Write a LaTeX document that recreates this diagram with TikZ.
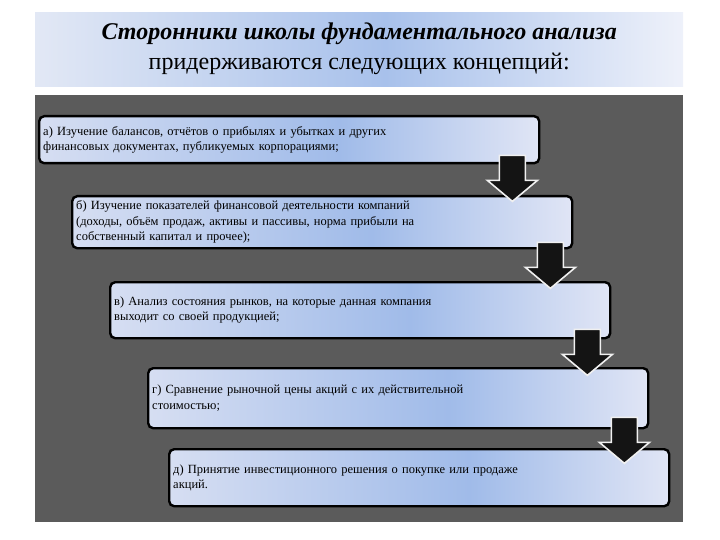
\documentclass[tikz,border=0pt]{standalone}
\usepackage{fontspec}
\setmainfont{Liberation Serif}
\usepackage{tikz}

\definecolor{panelgray}{RGB}{91,91,91}
\definecolor{boxleft}{RGB}{214,222,242}
\definecolor{boxmid}{RGB}{160,187,233}
\definecolor{boxright}{RGB}{224,229,245}
\definecolor{bandleft}{RGB}{226,232,245}
\definecolor{bandmid}{RGB}{168,193,235}
\definecolor{bandright}{RGB}{238,241,250}

\pgfdeclarehorizontalshading{boxshade}{100bp}{color(0bp)=(boxleft); color(25bp)=(boxleft); color(55bp)=(boxmid); color(75bp)=(boxright); color(100bp)=(boxright)}
\pgfdeclarehorizontalshading{bandshade}{100bp}{color(0bp)=(bandleft); color(25bp)=(bandleft); color(52bp)=(bandmid); color(75bp)=(bandright); color(100bp)=(bandright)}

\tikzset{
	stage/.style={anchor=north west, shade, shading=boxshade, draw=black, line width=2.4pt, rounded corners=5pt,
		text width=492pt, inner xsep=4pt, inner ysep=0pt, align=left, font=\fontsize{12.5}{15.5}\selectfont},
	downarr/.pic={\draw[fill=black!92, draw=white!88!gray, line width=1.6pt, line join=miter]
		(-13,0) -- (13,0) -- (13,25) -- (25,25) -- (0,46) -- (-25,25) -- (-13,25) -- cycle;}
}

\begin{document}
\begin{tikzpicture}[x=1pt, y=-1pt]
		\useasboundingbox (0,0) rectangle (720,540);

		% title band
		\node (band) [anchor=north west, shade, shading=bandshade, minimum width=648pt, minimum height=74pt, inner sep=0pt] at (35,12) {};
		\node (title) [align=center, font=\fontsize{24}{30}\selectfont] at (band.center) {\textbf{\textit{Сторонники школы фундаментального анализа}}\\придерживаются следующих концепций:};

		\fill[panelgray] (35,95) rectangle (683,522);

		\node (a) [stage, minimum height=47pt] at (38,115) {а) Изучение балансов, отчётов о прибылях и убытках и других\\финансовых документах, публикуемых корпорациями;};
		\node (b) [stage, minimum height=52pt] at (71,195) {б) Изучение показателей финансовой деятельности компаний\\(доходы, объём продаж, активы и пассивы, норма прибыли на\\собственный капитал и прочее);};
		\node (c) [stage, minimum height=56pt] at (109,281) {в) Анализ состояния рынков, на которые данная компания\\выходит со своей продукцией;};
		\node (d) [stage, minimum height=60pt] at (147,367) {г) Сравнение рыночной цены акций с их действительной\\стоимостью;};
		\node (e) [stage, minimum height=57pt] at (168,448) {д) Принятие инвестиционного решения о покупке или продаже\\акций.};

		% arrows between the stages
		\pic at ([xshift=-28pt, yshift=9pt]a.south east) {downarr};
		\pic at ([xshift=-23pt, yshift=7pt]b.south east) {downarr};
		\pic at ([xshift=-24pt, yshift=10pt]c.south east) {downarr};
		\pic at ([xshift=-25pt, yshift=12pt]d.south east) {downarr};

	\end{tikzpicture}
\end{document}
